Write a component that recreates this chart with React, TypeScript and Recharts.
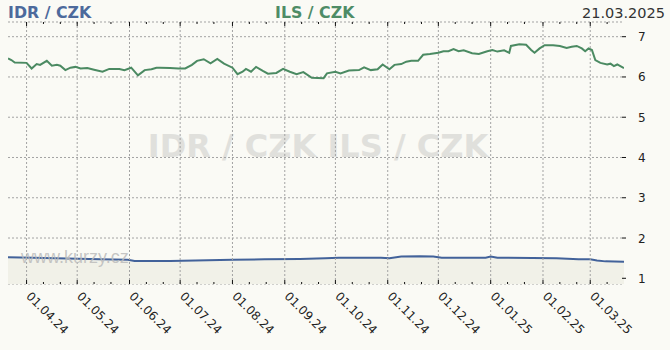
import { ComposedChart, Line, Area, XAxis, YAxis, CartesianGrid, ReferenceLine } from 'recharts'

// ILS / CZK daily-ish readings (CZK per 1 ILS)
const ILS_DATES = [
  '2024-03-21', '2024-03-23', '2024-03-25', '2024-04-01', '2024-04-04', '2024-04-07', '2024-04-09',
  '2024-04-13', '2024-04-16', '2024-04-19', '2024-04-21', '2024-04-24', '2024-04-27', '2024-04-30',
  '2024-05-03', '2024-05-07', '2024-05-11', '2024-05-16', '2024-05-20', '2024-05-26', '2024-05-29',
  '2024-06-02', '2024-06-06', '2024-06-10', '2024-06-14', '2024-06-17', '2024-06-19', '2024-06-25',
  '2024-06-30', '2024-07-04', '2024-07-08', '2024-07-11', '2024-07-15', '2024-07-19', '2024-07-23',
  '2024-07-27', '2024-08-01', '2024-08-04', '2024-08-07', '2024-08-09', '2024-08-12', '2024-08-15',
  '2024-08-19', '2024-08-22', '2024-08-27', '2024-08-31', '2024-09-04', '2024-09-08', '2024-09-12',
  '2024-09-17', '2024-09-24', '2024-09-26', '2024-10-01', '2024-10-04', '2024-10-09', '2024-10-15',
  '2024-10-18', '2024-10-22', '2024-10-26', '2024-10-29', '2024-11-02', '2024-11-05', '2024-11-09',
  '2024-11-12', '2024-11-15', '2024-11-19', '2024-11-22', '2024-11-26', '2024-12-01', '2024-12-04',
  '2024-12-07', '2024-12-10', '2024-12-13', '2024-12-16', '2024-12-21', '2024-12-25', '2024-12-30',
  '2025-01-02', '2025-01-05', '2025-01-09', '2025-01-12', '2025-01-13', '2025-01-18', '2025-01-22',
  '2025-01-25', '2025-01-27', '2025-01-30', '2025-02-02', '2025-02-07', '2025-02-11', '2025-02-15',
  '2025-02-18', '2025-02-21', '2025-02-24', '2025-02-26', '2025-02-28', '2025-03-02', '2025-03-04',
  '2025-03-07', '2025-03-11', '2025-03-13', '2025-03-15', '2025-03-17', '2025-03-21',
]
const ILS_VALUES = [
  6.46, 6.42, 6.36, 6.35, 6.21, 6.32, 6.30,
  6.40, 6.28, 6.30, 6.28, 6.17, 6.23, 6.25,
  6.21, 6.22, 6.18, 6.13, 6.20, 6.20, 6.17,
  6.23, 6.04, 6.17, 6.19, 6.23, 6.23, 6.22,
  6.21, 6.21, 6.30, 6.40, 6.44, 6.34, 6.45,
  6.33, 6.23, 6.07, 6.13, 6.20, 6.13, 6.25,
  6.15, 6.08, 6.10, 6.20, 6.13, 6.07, 6.12,
  5.98, 5.97, 6.09, 6.13, 6.09, 6.16, 6.17,
  6.24, 6.17, 6.19, 6.31, 6.19, 6.30, 6.32,
  6.38, 6.40, 6.40, 6.55, 6.57, 6.60, 6.64,
  6.64, 6.69, 6.64, 6.66, 6.59, 6.57, 6.64,
  6.67, 6.63, 6.66, 6.60, 6.77, 6.81, 6.80,
  6.67, 6.60, 6.71, 6.79, 6.79, 6.77, 6.72,
  6.75, 6.77, 6.71, 6.64, 6.71, 6.67, 6.42,
  6.35, 6.31, 6.33, 6.27, 6.31, 6.22,
]

// IDR / CZK (CZK per 1000 IDR)
const IDR_DATES = [
  '2024-03-21', '2024-04-05', '2024-04-25', '2024-05-15', '2024-05-31', '2024-06-04', '2024-06-25',
  '2024-07-10', '2024-08-01', '2024-08-20', '2024-09-10', '2024-09-25', '2024-10-03', '2024-10-28',
  '2024-11-02', '2024-11-09', '2024-11-20', '2024-11-28', '2024-12-03', '2024-12-29', '2025-01-01',
  '2025-01-05', '2025-02-09', '2025-02-22', '2025-03-01', '2025-03-05', '2025-03-10', '2025-03-21',
]
const IDR_VALUES = [
  1.52, 1.51, 1.49, 1.47, 1.46, 1.43, 1.43,
  1.44, 1.46, 1.47, 1.48, 1.50, 1.51, 1.51,
  1.50, 1.54, 1.55, 1.54, 1.51, 1.51, 1.54,
  1.51, 1.50, 1.47, 1.47, 1.44, 1.42, 1.41,
]

const MONTHS = [
  '2024-04-01', '2024-05-01', '2024-06-01', '2024-07-01', '2024-08-01', '2024-09-01',
  '2024-10-01', '2024-11-01', '2024-12-01', '2025-01-01', '2025-02-01', '2025-03-01',
]
const MONTH_LABELS = [
  '01.04.24', '01.05.24', '01.06.24', '01.07.24', '01.08.24', '01.09.24',
  '01.10.24', '01.11.24', '01.12.24', '01.01.25', '01.02.25', '01.03.25',
]
const Y_TICKS = [1, 2, 3, 4, 5, 6, 7]
const START = '2024-03-21'
const END = '2025-03-21'

const W = 670
const H = 350
const TOP = 22
const FONT = '"DejaVu Sans", Verdana, sans-serif'
const GREEN = '#4b8a62'
const BLUE = '#42629a'
const DAY = 86400000

const ts = (d: string) => Date.parse(d)
const ilsData = ILS_DATES.map((d, i) => ({ t: ts(d), v: ILS_VALUES[i] }))
const idrData = IDR_DATES.map((d, i) => ({ t: ts(d), v: IDR_VALUES[i] }))
const monthTs = MONTHS.map(ts)
const xTicks = [...monthTs, ...monthTs.flatMap(t => [t + 10 * DAY, t + 20 * DAY])]
  .filter(t => t < ts(END))
  .sort((a, b) => a - b)

function XTick({ x, y, payload }: any) {
  const i = monthTs.indexOf(payload.value)
  const major = i >= 0
  return (
    <g>
      <line x1={x} x2={x} y1={y - (major ? 4 : 2)} y2={y} stroke="#111" />
      <line x1={x} x2={x} y1={TOP} y2={TOP + (major ? 4 : 2)} stroke="#111" />
      {major && (
        <text
          x={x - 1}
          y={y + 13}
          transform={`rotate(45 ${x - 1} ${y + 13})`}
          fontSize={12}
          fontFamily={FONT}
          fill="#222"
        >{MONTH_LABELS[i]}</text>
      )}
    </g>
  )
}

function RightTick({ x, y, payload }: any) {
  return (
    <g>
      <line x1={x - 2} x2={x + 2} y1={y} y2={y} stroke="#111" />
      <text x={x + 14} y={y + 4.5} fontSize={12} fontFamily={FONT} fill="#222">{payload.value}</text>
    </g>
  )
}

function LeftTick({ x, y }: any) {
  return <line x1={x + 1} x2={x + 5} y1={y} y2={y} stroke="#111" />
}

export default function App() {
  return (
    <div style={{ position: 'absolute', left: 0, top: 0, width: W, height: H, background: '#fafaf5', fontFamily: FONT }}>
      <svg width={W} height={H} style={{ position: 'absolute', left: 0, top: 0 }}>
        <text x={8} y={17.5} fontSize={15.8} fontWeight="bold" fill="#4d6a9c" fontFamily={FONT}>IDR / CZK</text>
        <text x={275} y={17.5} fontSize={15.8} fontWeight="bold" fill="#4e8c66" fontFamily={FONT}>ILS / CZK</text>
        <text x={665} y={18.3} fontSize={14.5} textAnchor="end" fill="#333" fontFamily={FONT}>21.03.2025</text>
        <text x={318} y={157} fontSize={32} fontWeight="bold" textAnchor="middle" fill="#e0e0dc" fontFamily={FONT}>IDR / CZK  ILS / CZK</text>
      </svg>
      <div style={{ position: 'absolute', left: 0, top: 0 }}>
        <ComposedChart width={W} height={H} margin={{ top: TOP, right: 6, bottom: 6, left: 8 }}>
          <CartesianGrid vertical={false} yAxisId="r" stroke="#a3a3a3" strokeDasharray="2 2" />
          <XAxis
            dataKey="t"
            type="number"
            scale="time"
            domain={[ts(START), ts(END)]}
            allowDataOverflow
            ticks={xTicks}
            interval={0}
            tick={<XTick />}
            tickLine={false}
            axisLine={false}
            tickSize={0}
            tickMargin={0}
            height={60}
          />
          <YAxis
            yAxisId="r"
            orientation="right"
            type="number"
            domain={[0.858, 7.365]}
            allowDataOverflow
            ticks={Y_TICKS}
            interval={0}
            tick={<RightTick />}
            tickLine={false}
            axisLine={false}
            tickSize={0}
            tickMargin={0}
            width={40}
          />
          <YAxis
            yAxisId="l"
            orientation="left"
            mirror
            type="number"
            domain={[0.858, 7.365]}
            allowDataOverflow
            ticks={Y_TICKS}
            interval={0}
            tick={<LeftTick />}
            tickLine={false}
            axisLine={false}
            tickSize={0}
            tickMargin={0}
            width={0}
          />
          {monthTs.map(t => (
            <ReferenceLine key={t} x={t} yAxisId="r" stroke="#a3a3a3" strokeDasharray="2 2" />
          ))}
          <Area
            yAxisId="r"
            data={idrData}
            dataKey="v"
            type="linear"
            stroke={BLUE}
            strokeWidth={2}
            fill="#f1f1e8"
            fillOpacity={1}
            dot={false}
            activeDot={false}
            isAnimationActive={false}
          />
          <Line
            yAxisId="r"
            data={ilsData}
            dataKey="v"
            type="linear"
            stroke={GREEN}
            strokeWidth={2}
            dot={false}
            activeDot={false}
            isAnimationActive={false}
          />
        </ComposedChart>
      </div>
      <svg width={W} height={H} style={{ position: 'absolute', left: 0, top: 0, pointerEvents: 'none' }}>
        <text x={21} y={263} fontSize={18} fill="#bcbcbc" fillOpacity={0.85} fontFamily='"Liberation Sans", Arial, sans-serif'>www.kurzy.cz</text>
      </svg>
    </div>
  )
}
